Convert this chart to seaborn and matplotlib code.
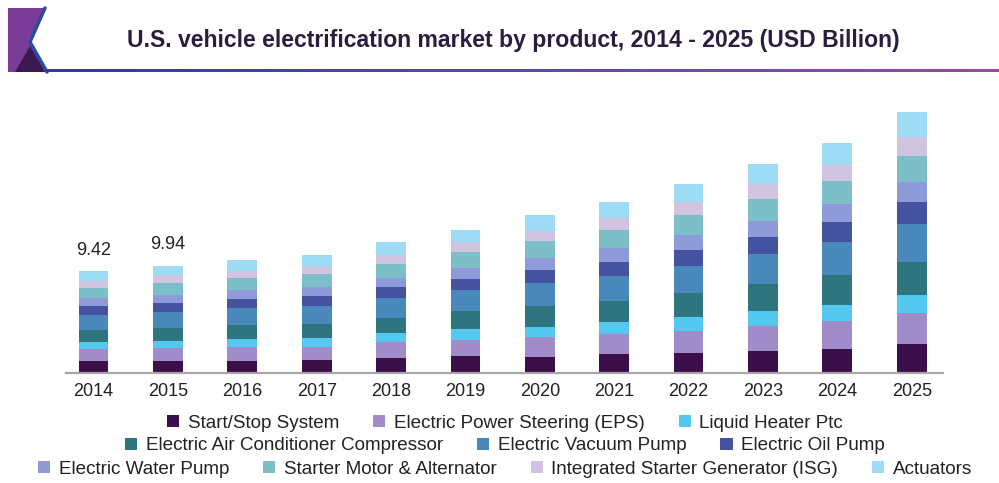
import numpy as np
import pandas as pd
import seaborn as sns
import matplotlib.pyplot as plt
from matplotlib.patches import Patch, Polygon
from matplotlib.lines import Line2D
from matplotlib.colors import LinearSegmentedColormap

# ---- data (USD billion) ----
years = ["2014", "2015", "2016", "2017", "2018", "2019",
         "2020", "2021", "2022", "2023", "2024", "2025"]

start_stop      = [1.11, 1.09, 1.11, 1.20, 1.39, 1.57, 1.48, 1.76, 1.85, 2.04, 2.22, 2.68]
eps             = [1.11, 1.19, 1.30, 1.20, 1.48, 1.48, 1.85, 1.85, 2.04, 2.31, 2.59, 2.87]
liquid_heater   = [0.65, 0.64, 0.74, 0.83, 0.83, 1.02, 0.92, 1.11, 1.30, 1.39, 1.48, 1.67]
ac_compressor   = [1.11, 1.28, 1.30, 1.30, 1.39, 1.67, 1.94, 1.94, 2.22, 2.50, 2.78, 3.05]
vacuum_pump     = [1.39, 1.46, 1.57, 1.67, 1.85, 1.94, 2.13, 2.31, 2.50, 2.78, 3.05, 3.52]
oil_pump        = [0.83, 0.82, 0.83, 0.92, 1.02, 1.02, 1.20, 1.30, 1.48, 1.57, 1.85, 2.04]
water_pump      = [0.74, 0.73, 0.83, 0.83, 0.83, 1.02, 1.11, 1.30, 1.39, 1.48, 1.67, 1.85]
starter_motor   = [0.92, 1.09, 1.11, 1.20, 1.30, 1.48, 1.57, 1.67, 1.85, 2.04, 2.13, 2.41]
isg             = [0.65, 0.73, 0.65, 0.65, 0.83, 0.92, 0.92, 1.11, 1.20, 1.39, 1.48, 1.76]
actuators       = [0.91, 0.91, 1.02, 1.11, 1.20, 1.11, 1.48, 1.48, 1.67, 1.85, 2.04, 2.31]

products = ["Start/Stop System", "Electric Power Steering (EPS)", "Liquid Heater Ptc",
            "Electric Air Conditioner Compressor", "Electric Vacuum Pump", "Electric Oil Pump",
            "Electric Water Pump", "Starter Motor & Alternator",
            "Integrated Starter Generator (ISG)", "Actuators"]
series = [start_stop, eps, liquid_heater, ac_compressor, vacuum_pump, oil_pump,
          water_pump, starter_motor, isg, actuators]
colors = ["#3a0f4a", "#a08cc8", "#55c8f0", "#2e7580", "#4a88bb",
          "#4552a0", "#8f9ad8", "#7dbfc8", "#d0c4e0", "#9edcf5"]

labelled = {"2014": 9.42, "2015": 9.94}

# ---- style ----
sns.set_theme(style="white")
plt.rcParams["font.family"] = ["Liberation Sans", "DejaVu Sans"]

fig = plt.figure(figsize=(9.99, 4.83), dpi=100)
W, H = 999, 483

ax = fig.add_axes([66 / W, 1 - 373 / H, (943 - 66) / W, (373 - 100) / H])

df = pd.DataFrame({"year": years})
bottom = np.zeros(len(years))
for name, vals, col in zip(products, series, colors):
    sns.barplot(x=df["year"], y=np.array(vals), bottom=bottom, color=col,
                saturation=1, width=0.4, errorbar=None, ax=ax, linewidth=0)
    bottom = bottom + np.array(vals)

ax.set_xlim(-0.37, 11.42)
ax.set_ylim(0, 25.25)
ax.set_xlabel("")
ax.set_ylabel("")
ax.set_yticks([])
for s in ["top", "right", "left"]:
    ax.spines[s].set_visible(False)
ax.spines["bottom"].set_color("#a6a6a6")
ax.spines["bottom"].set_linewidth(1.6)
ax.tick_params(axis="x", length=0, pad=7, labelsize=13, labelcolor="#222222")

# value labels for the first two years
for i, y in enumerate(years):
    if y in labelled:
        ax.annotate(f"{labelled[y]:.2f}", (i, bottom[i]), xytext=(0, 9),
                    textcoords="offset points", ha="center", va="bottom",
                    fontsize=13, color="#222222")

# ---- legend: three centred rows ----
rows = [[0, 1, 2], [3, 4, 5], [6, 7, 8, 9]]
row_y = [423, 446, 469]
for r, yy in zip(rows, row_y):
    handles = [Patch(facecolor=colors[k], edgecolor="none") for k in r]
    fig.legend(handles, [products[k] for k in r], ncol=len(r),
               loc="center", bbox_to_anchor=(505 / W, 1 - yy / H),
               frameon=False, fontsize=13.6, handlelength=0.65, handleheight=0.65,
               handletextpad=0.45, columnspacing=1.8, borderpad=0, borderaxespad=0,
               labelcolor="#222222")

# ---- header ----
fig.text(513 / W, 1 - 40 / H,
         "U.S. vehicle electrification market by product, 2014 - 2025 (USD Billion)",
         ha="center", va="center", fontsize=16.6, fontweight="bold", color="#2b1d40")

# gradient rule under the title
gax = fig.add_axes([45 / W, 1 - 72 / H, (W - 45) / W, 3 / H])
grad = np.linspace(0, 1, 256).reshape(1, -1)
cmap = LinearSegmentedColormap.from_list("rule", ["#2a3f9a", "#5a4aa8", "#9a4aa0"])
gax.imshow(grad, aspect="auto", cmap=cmap)
gax.set_axis_off()

# logo mark
lax = fig.add_axes([0, 0, 1, 1], zorder=-1)
lax.set_xlim(0, W)
lax.set_ylim(H, 0)
lax.set_axis_off()
lax.add_patch(Polygon([(8, 8), (45, 8), (30, 42), (47, 72), (8, 72)],
                      closed=True, facecolor="#7b3c98", edgecolor="none"))
lax.add_patch(Polygon([(15, 72), (30, 46), (45, 72)],
                      closed=True, facecolor="#3b1850", edgecolor="none"))
lax.add_line(Line2D([45, 30, 47], [8, 42, 72], color="#2a4aa8", linewidth=2.5))

fig.savefig("out.png", dpi=100)
